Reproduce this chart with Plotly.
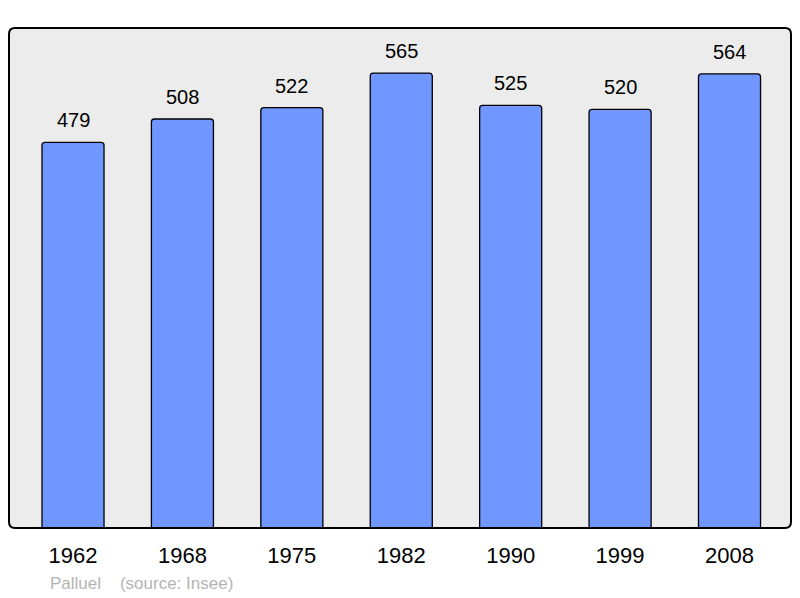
import plotly.graph_objects as go

years = ["1962", "1968", "1975", "1982", "1990", "1999", "2008"]
population = [479, 508, 522, 565, 525, 520, 564]
source_text = "Palluel    (source: Insee)"

xs = list(range(len(years)))

fig = go.Figure()
fig.add_trace(go.Bar(
    x=xs, y=population, width=0.567,
    marker=dict(color="#7096ff", line=dict(color="black", width=1.3), cornerradius=3),
    hoverinfo="skip",
))

for x, v in zip(xs, population):
    fig.add_annotation(x=x, y=v, text=str(v), showarrow=False, yanchor="bottom",
                       yshift=9, font=dict(size=20, color="black", family="Liberation Sans"))

W, H = 782, 500
r = 6
rx, ry = r / W, r / H
path = (f"M {rx},0 L {1-rx},0 Q 1,0 1,{ry} L 1,{1-ry} Q 1,1 {1-rx},1 "
        f"L {rx},1 Q 0,1 0,{1-ry} L 0,{ry} Q 0,0 {rx},0 Z")
fig.add_shape(type="path", path=path, xref="x domain", yref="y domain",
              line=dict(color="black", width=2), layer="above")

fig.add_annotation(x=(48 - 9) / W, y=1 - (583 - 28) / H, xref="paper", yref="paper",
                   text=source_text, showarrow=False, xanchor="left", yanchor="middle",
                   font=dict(size=17, color="#b4b4b4", family="Liberation Sans"))

fig.update_layout(
    width=800, height=598,
    margin=dict(l=9, r=9, t=28, b=70),
    paper_bgcolor="white", plot_bgcolor="#ececec",
    showlegend=False,
    xaxis=dict(range=[-0.585, 6.562], tickvals=xs, ticktext=years, showgrid=False,
               zeroline=False, ticks="", ticklabelstandoff=12,
               tickfont=dict(size=22, color="black", family="Liberation Sans"),
               fixedrange=True),
    yaxis=dict(range=[0, 621], showticklabels=False, showgrid=False, zeroline=False, fixedrange=True),
)
fig.write_html("out.html", config={"displayModeBar": False},
               post_script="document.body.style.margin='0';")
